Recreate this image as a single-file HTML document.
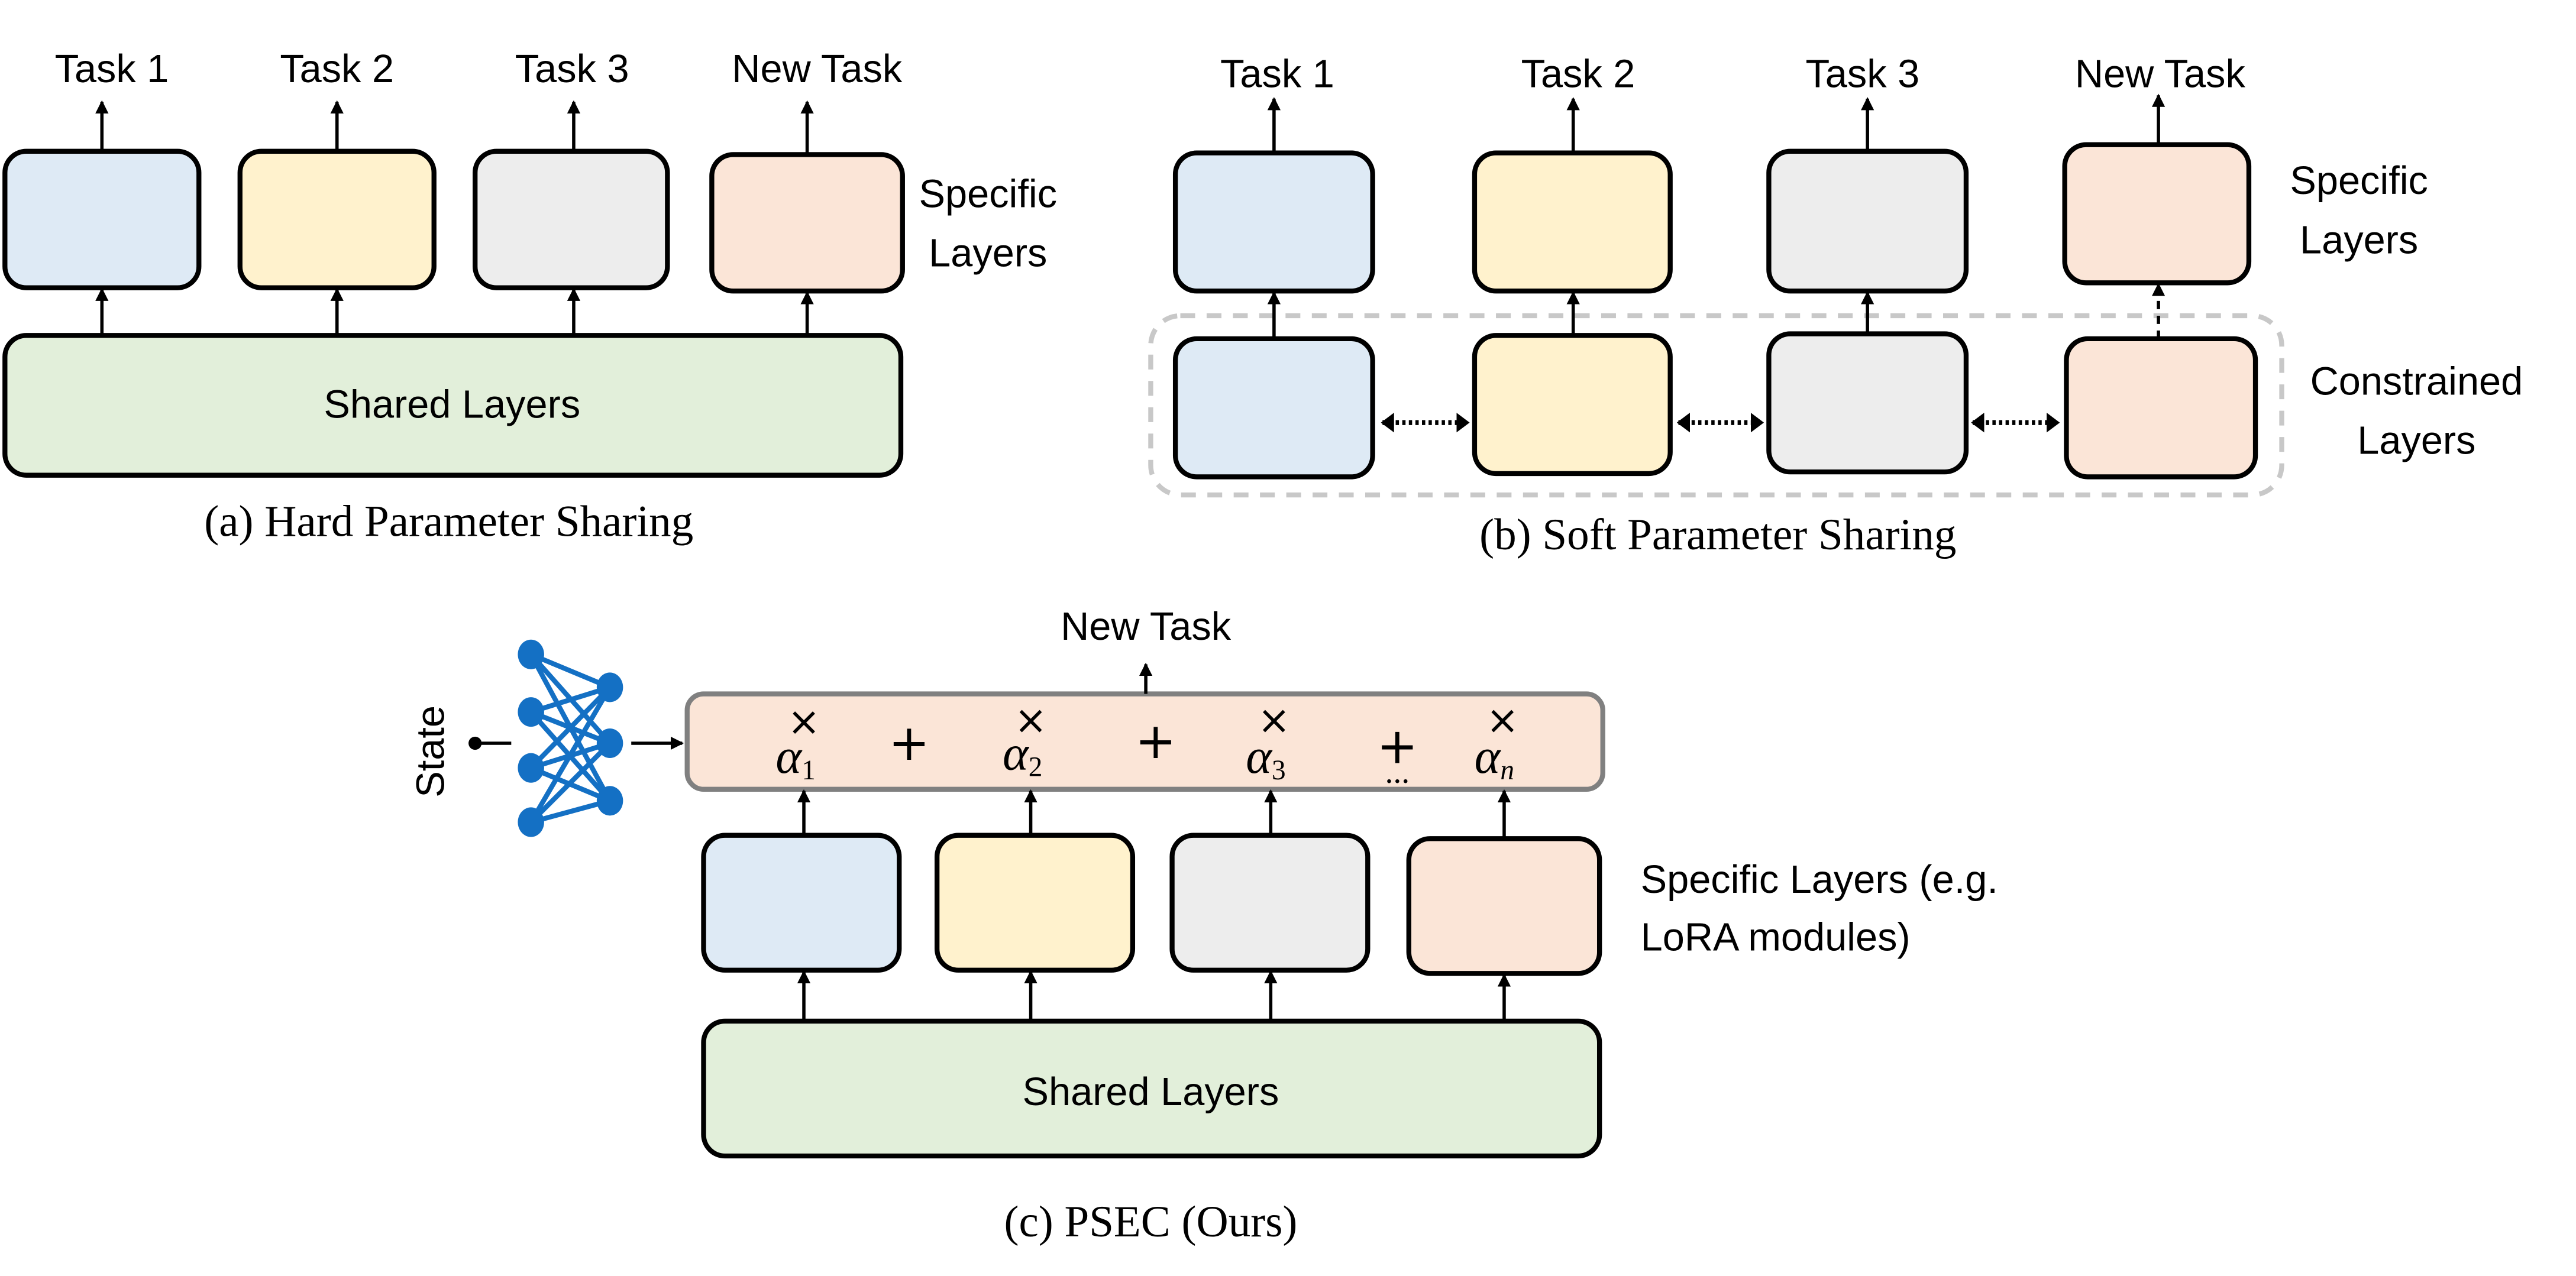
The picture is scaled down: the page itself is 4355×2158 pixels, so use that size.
<!DOCTYPE html>
<html><head><meta charset="utf-8"><style>
html,body{margin:0;padding:0;background:#fff;}
svg{display:block;}
.t{font-family:"Liberation Sans",sans-serif;font-size:24px;fill:#000;}
.c{font-family:"Liberation Serif",serif;font-size:27px;fill:#000;}
.m{font-family:"Liberation Serif",serif;font-style:italic;font-size:30px;fill:#000;}
.x{font-family:"DejaVu Sans",sans-serif;font-size:24px;fill:#000;}
.p{font-family:"DejaVu Sans",sans-serif;font-size:30px;fill:#000;}
.d{font-family:"Liberation Serif",serif;font-size:20px;fill:#000;}
</style></head><body>
<svg width="4355" height="2158" viewBox="0 0 1567 776" preserveAspectRatio="none" xmlns="http://www.w3.org/2000/svg">
<defs>
<marker id="a" markerWidth="8" markerHeight="10" refX="7" refY="5" orient="auto" markerUnits="userSpaceOnUse"><path d="M0,1 L8,5 L0,9 Z" fill="#000"/></marker>
<marker id="ab" markerWidth="8" markerHeight="12" refX="7" refY="6" orient="auto-start-reverse" markerUnits="userSpaceOnUse"><path d="M0,0 L8,6 L0,12 Z" fill="#000"/></marker>
</defs>
<g stroke="#000" stroke-width="3">
<rect x="3" y="92" width="118" height="83" rx="13" fill="#deeaf5"/>
<rect x="146" y="92" width="118" height="83" rx="13" fill="#fff2cd"/>
<rect x="289" y="92" width="117" height="83" rx="13" fill="#ededed"/>
<rect x="433" y="94" width="116" height="83" rx="13" fill="#fbe5d7"/>
<rect x="3" y="204" width="545" height="85" rx="13" fill="#e2efda"/>
</g>
<g stroke="#000" stroke-width="2" marker-end="url(#a)">
<line x1="62" y1="92" x2="62" y2="62"/><line x1="205" y1="92" x2="205" y2="62"/><line x1="349" y1="92" x2="349" y2="62"/><line x1="491" y1="94" x2="491" y2="62"/>
<line x1="62" y1="204" x2="62" y2="176"/><line x1="205" y1="204" x2="205" y2="176"/><line x1="349" y1="204" x2="349" y2="176"/><line x1="491" y1="204" x2="491" y2="178"/>
</g>
<text class="t" x="68" y="50" text-anchor="middle">Task 1</text>
<text class="t" x="205" y="50" text-anchor="middle">Task 2</text>
<text class="t" x="348" y="50" text-anchor="middle">Task 3</text>
<text class="t" x="497" y="50" text-anchor="middle">New Task</text>
<text class="t" x="601" y="126" text-anchor="middle">Specific</text>
<text class="t" x="601" y="162" text-anchor="middle">Layers</text>
<text class="t" x="275" y="254" text-anchor="middle">Shared Layers</text>
<text class="c" x="273" y="326" text-anchor="middle">(a) Hard Parameter Sharing</text>

<rect x="700" y="192" width="688" height="109" rx="18" fill="none" stroke="#c8c8c8" stroke-width="3" stroke-dasharray="9,7"/>
<g stroke="#000" stroke-width="3">
<rect x="715" y="93" width="120" height="84" rx="13" fill="#deeaf5"/>
<rect x="897" y="93" width="119" height="84" rx="13" fill="#fff2cd"/>
<rect x="1076" y="92" width="120" height="85" rx="13" fill="#ededed"/>
<rect x="1256" y="88" width="112" height="84" rx="13" fill="#fbe5d7"/>
<rect x="715" y="206" width="120" height="84" rx="13" fill="#deeaf5"/>
<rect x="897" y="204" width="119" height="84" rx="13" fill="#fff2cd"/>
<rect x="1076" y="203" width="120" height="84" rx="13" fill="#ededed"/>
<rect x="1257" y="206" width="115" height="84" rx="13" fill="#fbe5d7"/>
</g>
<g stroke="#000" stroke-width="2" marker-end="url(#a)">
<line x1="775" y1="93" x2="775" y2="60"/><line x1="957" y1="93" x2="957" y2="60"/><line x1="1136" y1="92" x2="1136" y2="60"/><line x1="1313" y1="88" x2="1313" y2="58"/>
<line x1="775" y1="206" x2="775" y2="178"/><line x1="957" y1="204" x2="957" y2="178"/><line x1="1136" y1="203" x2="1136" y2="178"/>
<line x1="1313" y1="206" x2="1313" y2="173" stroke-dasharray="5,4"/>
</g>
<g stroke="#000" stroke-width="3" stroke-dasharray="2,2" marker-start="url(#ab)" marker-end="url(#ab)">
<line x1="841" y1="257" x2="893" y2="257"/>
<line x1="1021" y1="257" x2="1072" y2="257"/>
<line x1="1200" y1="257" x2="1252" y2="257"/>
</g>
<text class="t" x="777" y="53" text-anchor="middle">Task 1</text>
<text class="t" x="960" y="53" text-anchor="middle">Task 2</text>
<text class="t" x="1133" y="53" text-anchor="middle">Task 3</text>
<text class="t" x="1314" y="53" text-anchor="middle">New Task</text>
<text class="t" x="1435" y="118" text-anchor="middle">Specific</text>
<text class="t" x="1435" y="154" text-anchor="middle">Layers</text>
<text class="t" x="1470" y="240" text-anchor="middle">Constrained</text>
<text class="t" x="1470" y="276" text-anchor="middle">Layers</text>
<text class="c" x="1045" y="334" text-anchor="middle">(b) Soft Parameter Sharing</text>

<rect x="418" y="422" width="557" height="58" rx="10" fill="#fbe5d7" stroke="#808080" stroke-width="3"/>
<g stroke="#000" stroke-width="3">
<rect x="428" y="508" width="119" height="82" rx="13" fill="#deeaf5"/>
<rect x="570" y="508" width="119" height="82" rx="13" fill="#fff2cd"/>
<rect x="713" y="508" width="119" height="82" rx="13" fill="#ededed"/>
<rect x="857" y="510" width="116" height="82" rx="13" fill="#fbe5d7"/>
<rect x="428" y="621" width="545" height="82" rx="13" fill="#e2efda"/>
</g>
<g stroke="#000" stroke-width="2" marker-end="url(#a)">
<line x1="697" y1="422" x2="697" y2="404"/>
<line x1="489" y1="508" x2="489" y2="481"/><line x1="627" y1="508" x2="627" y2="481"/><line x1="773" y1="508" x2="773" y2="481"/><line x1="915" y1="510" x2="915" y2="481"/>
<line x1="489" y1="621" x2="489" y2="591"/><line x1="627" y1="621" x2="627" y2="591"/><line x1="773" y1="621" x2="773" y2="591"/><line x1="915" y1="621" x2="915" y2="593"/>
<line x1="384" y1="452" x2="415" y2="452"/>
</g>
<g class="x" text-anchor="middle">
<text x="489" y="447">×</text><text x="627" y="446">×</text><text x="775" y="446">×</text><text x="914" y="446">×</text>
</g>
<text class="m" x="484" y="470" text-anchor="middle">α<tspan style="font-size:17px;font-style:normal" dy="4">1</tspan></text>
<text class="m" x="622" y="468" text-anchor="middle">α<tspan style="font-size:17px;font-style:normal" dy="4">2</tspan></text>
<text class="m" x="770" y="470" text-anchor="middle">α<tspan style="font-size:17px;font-style:normal" dy="4">3</tspan></text>
<text class="m" x="909" y="470" text-anchor="middle">α<tspan style="font-size:17px" dy="4">n</tspan></text>
<text class="p" x="553" y="462" text-anchor="middle">+</text>
<text class="p" x="703" y="461" text-anchor="middle">+</text>
<text class="p" x="850" y="464" text-anchor="middle">+</text>
<text class="d" x="850" y="476" text-anchor="middle">...</text>
<text class="t" x="697" y="389" text-anchor="middle">New Task</text>
<text class="t" x="998" y="543">Specific Layers (e.g.</text>
<text class="t" x="998" y="578">LoRA modules)</text>
<text class="t" x="700" y="672" text-anchor="middle">Shared Layers</text>
<text class="c" x="700" y="752" text-anchor="middle">(c) PSEC (Ours)</text>
<text class="t" transform="translate(270,457) rotate(-90)" text-anchor="middle">State</text>
<circle cx="289" cy="452" r="4" fill="#000"/>
<line x1="289" y1="452" x2="311" y2="452" stroke="#000" stroke-width="2"/>
<g stroke="#1470c4" stroke-width="3">
<line x1="323" y1="398" x2="371" y2="418"/><line x1="323" y1="398" x2="371" y2="452"/><line x1="323" y1="398" x2="371" y2="487"/>
<line x1="323" y1="433" x2="371" y2="418"/><line x1="323" y1="433" x2="371" y2="452"/><line x1="323" y1="433" x2="371" y2="487"/>
<line x1="323" y1="467" x2="371" y2="418"/><line x1="323" y1="467" x2="371" y2="452"/><line x1="323" y1="467" x2="371" y2="487"/>
<line x1="323" y1="500" x2="371" y2="418"/><line x1="323" y1="500" x2="371" y2="452"/><line x1="323" y1="500" x2="371" y2="487"/>
</g>
<g fill="#1470c4">
<ellipse cx="323" cy="398" rx="8" ry="9"/><ellipse cx="323" cy="433" rx="8" ry="9"/><ellipse cx="323" cy="467" rx="8" ry="9"/><ellipse cx="323" cy="500" rx="8" ry="9"/>
<ellipse cx="371" cy="418" rx="8" ry="9"/><ellipse cx="371" cy="452" rx="8" ry="9"/><ellipse cx="371" cy="487" rx="8" ry="9"/>
</g>
</svg>
</body></html>
